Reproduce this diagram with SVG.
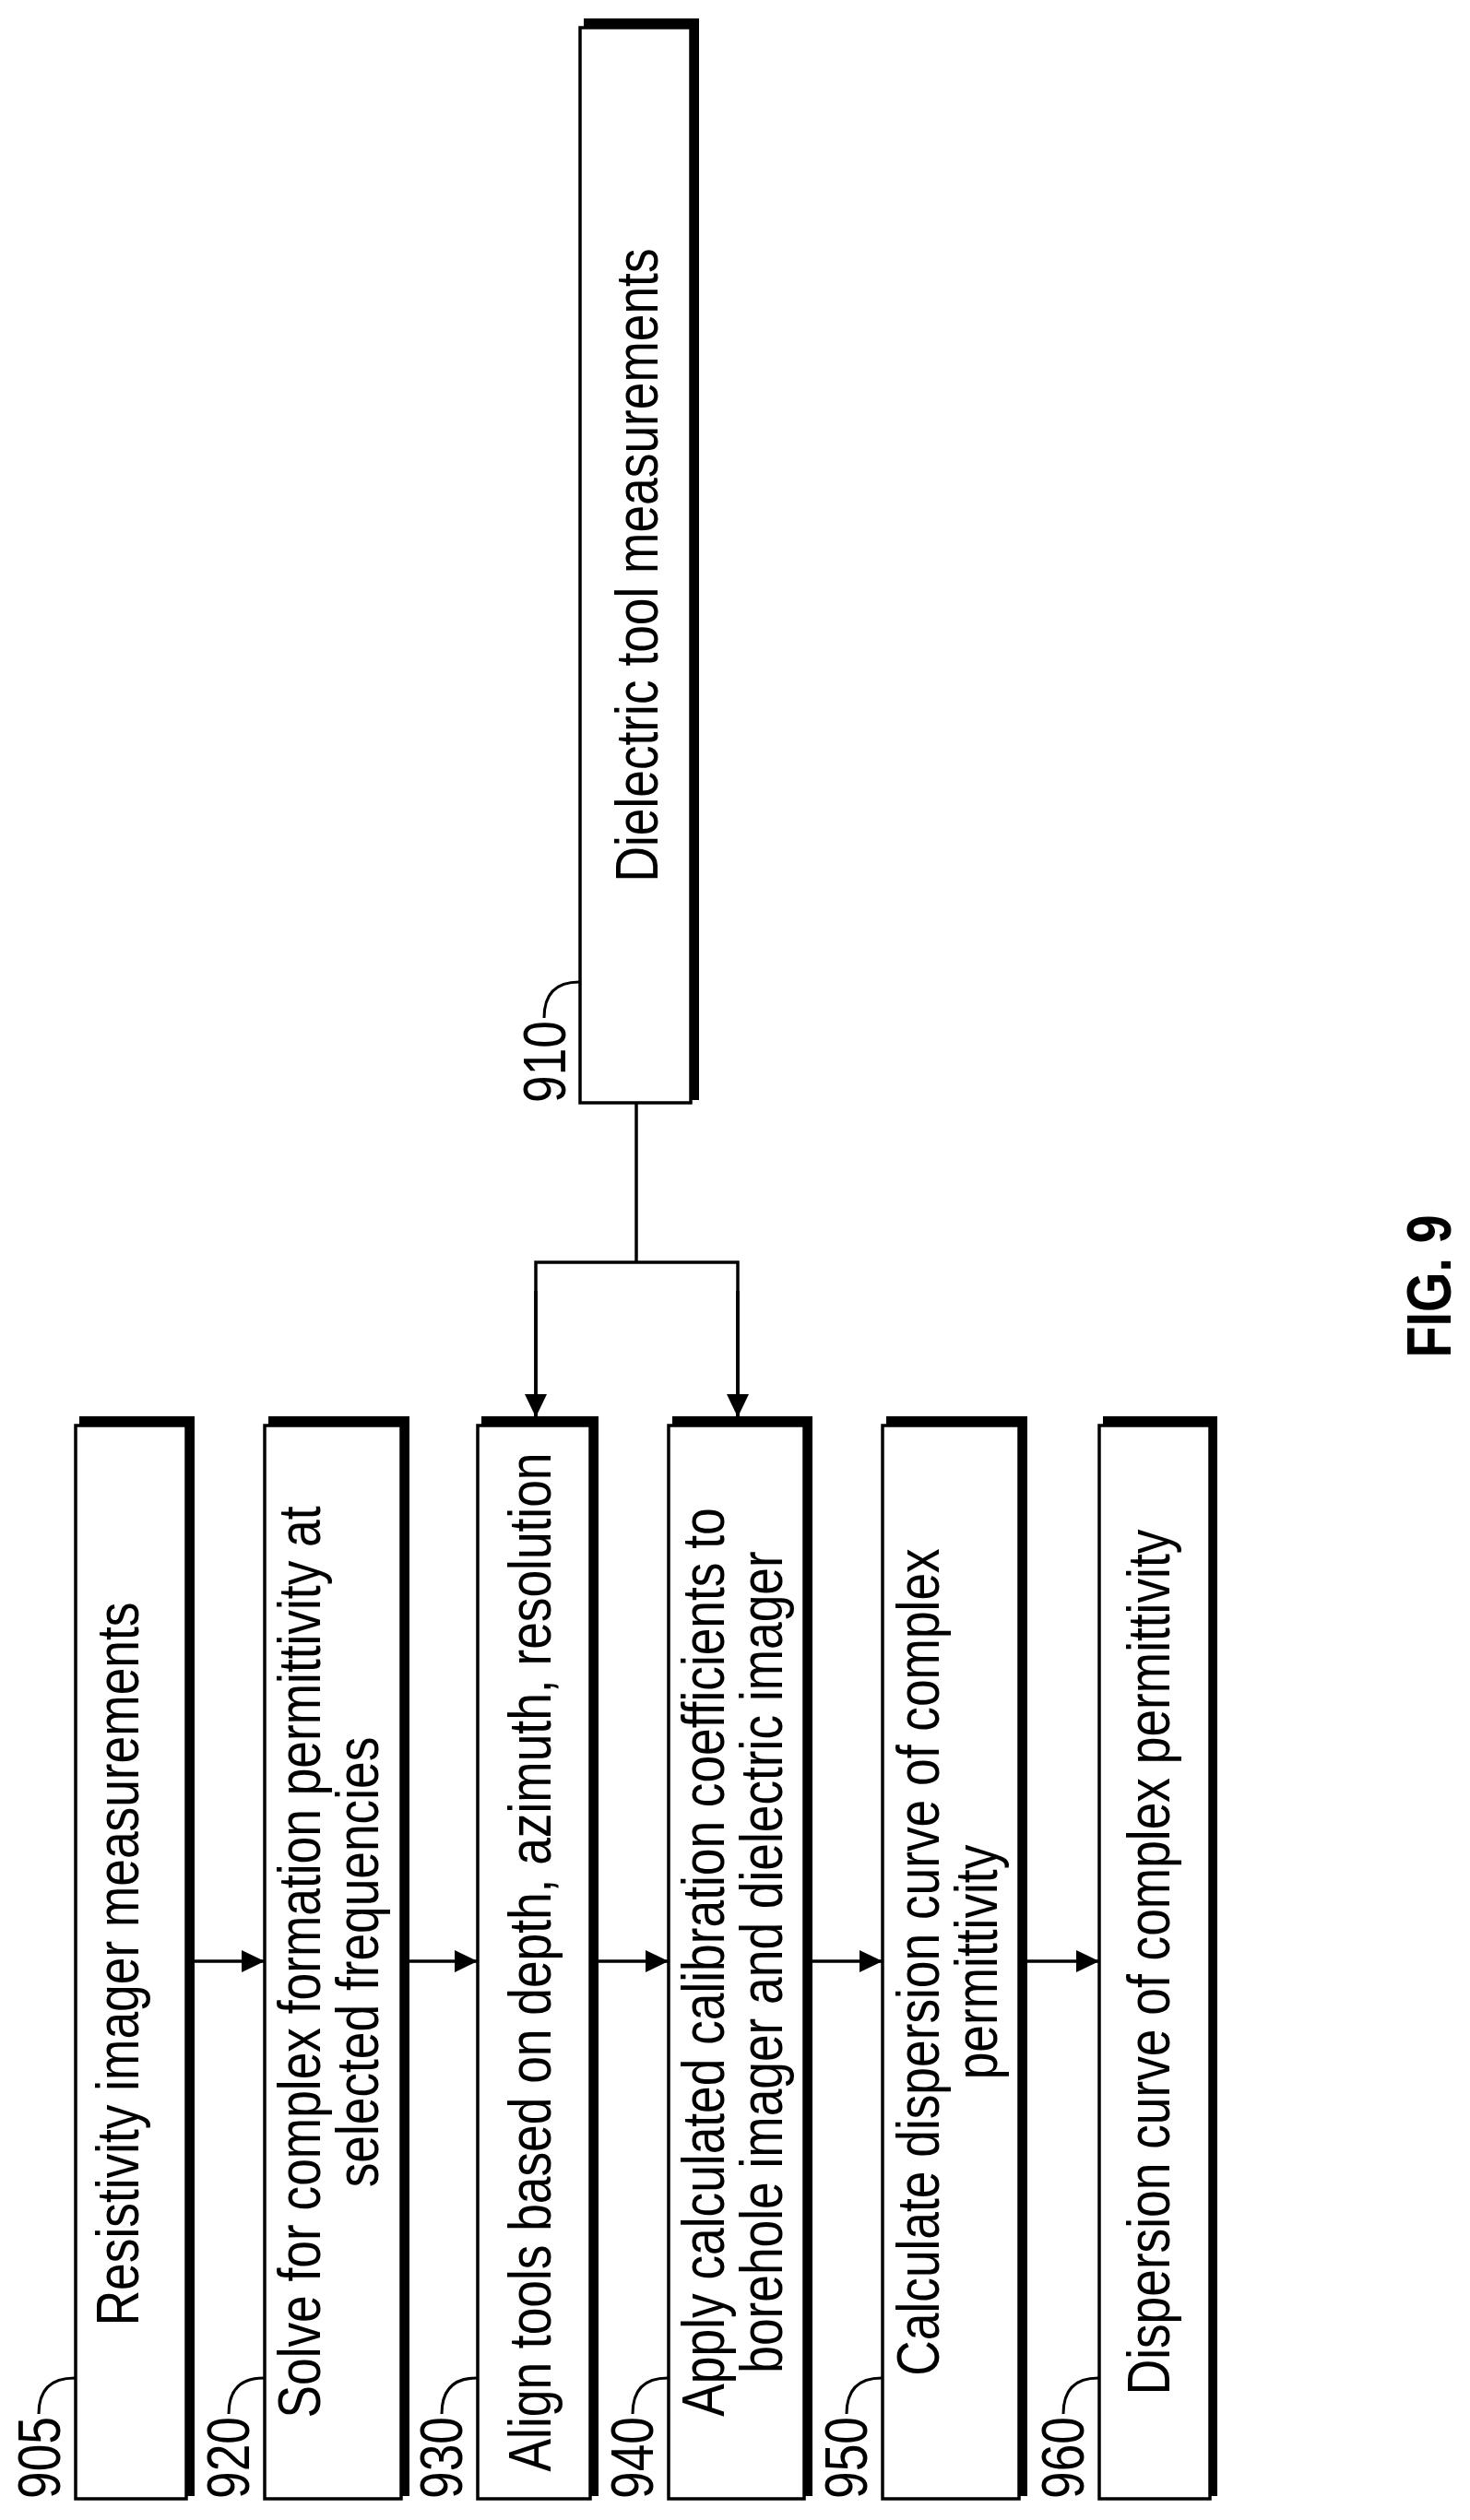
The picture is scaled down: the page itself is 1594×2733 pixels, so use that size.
<svg xmlns="http://www.w3.org/2000/svg" width="1594" height="2733" viewBox="0 0 1594 2733">
<style>
.sh{fill:#000}
.bx{fill:#fff;stroke:#000;stroke-width:3.5}
.t{font-family:"Liberation Sans",Arial,sans-serif;font-size:65px;fill:#000}
.c{text-anchor:middle}
.ln{fill:none;stroke:#000;stroke-width:3.5}
.ld{fill:none;stroke:#000;stroke-width:3}
.fig{font-family:"Liberation Sans",Arial,sans-serif;font-size:68px;font-weight:bold;text-anchor:middle}
</style>
<defs>
<marker id="ah" markerUnits="userSpaceOnUse" markerWidth="26" markerHeight="26" refX="25" refY="12" orient="auto"><path d="M0,0 L25,12 L0,24 Z" fill="#000"/></marker>
</defs>
<rect width="1594" height="2733" fill="#fff"/>

<g id="n905">
<rect class="sh" x="86" y="1536" width="125" height="1171"/>
<rect class="bx" x="82" y="1546" width="120" height="1164"/>
<text class="t c" transform="translate(150,2130) rotate(-90) scale(0.82,1)">Resistivity imager measurements</text>
<text class="t" transform="translate(65,2710) rotate(-90) scale(0.82,1)">905</text>
<path class="ld" d="M42,2618 Q42,2579 81,2579"/>
</g>
<g id="n920">
<rect class="sh" x="291" y="1536" width="153" height="1171"/>
<rect class="bx" x="287" y="1546" width="148" height="1164"/>
<text class="t c" transform="translate(347,2128) rotate(-90) scale(0.82,1)">Solve for complex formation permittivity at</text>
<text class="t c" transform="translate(410,2128) rotate(-90) scale(0.82,1)">selected frequencies</text>
<text class="t" transform="translate(270,2710) rotate(-90) scale(0.82,1)">920</text>
<path class="ld" d="M248,2618 Q248,2579 286,2579"/>
</g>
<g id="n930">
<rect class="sh" x="522" y="1536" width="127" height="1171"/>
<rect class="bx" x="518" y="1546" width="122" height="1164"/>
<text class="t c" transform="translate(597,2128) rotate(-90) scale(0.82,1)">Align tools based on depth, azimuth, resolution</text>
<text class="t" transform="translate(501,2710) rotate(-90) scale(0.82,1)">930</text>
<path class="ld" d="M479,2618 Q479,2579 517,2579"/>
</g>
<g id="n940">
<rect class="sh" x="729" y="1536" width="152" height="1171"/>
<rect class="bx" x="725" y="1546" width="147" height="1164"/>
<text class="t c" transform="translate(785,2128) rotate(-90) scale(0.82,1)">Apply calculated calibration coefficients to</text>
<text class="t c" transform="translate(848,2128) rotate(-90) scale(0.82,1)">borehole imager and dielectric imager</text>
<text class="t" transform="translate(708,2710) rotate(-90) scale(0.82,1)">940</text>
<path class="ld" d="M686,2618 Q686,2579 724,2579"/>
</g>
<g id="n950">
<rect class="sh" x="961" y="1536" width="153" height="1171"/>
<rect class="bx" x="957" y="1546" width="148" height="1164"/>
<text class="t c" transform="translate(1018,2128) rotate(-90) scale(0.82,1)">Calculate dispersion curve of complex</text>
<text class="t c" transform="translate(1081,2128) rotate(-90) scale(0.82,1)">permittivity</text>
<text class="t" transform="translate(940,2710) rotate(-90) scale(0.82,1)">950</text>
<path class="ld" d="M918,2618 Q918,2579 956,2579"/>
</g>
<g id="n960">
<rect class="sh" x="1196" y="1536" width="124" height="1171"/>
<rect class="bx" x="1192" y="1546" width="120" height="1164"/>
<text class="t c" transform="translate(1268,2128) rotate(-90) scale(0.82,1)">Dispersion curve of complex permittivity</text>
<text class="t" transform="translate(1175,2710) rotate(-90) scale(0.82,1)">960</text>
<path class="ld" d="M1153,2618 Q1153,2579 1191,2579"/>
</g>
<g id="n910">
<rect class="sh" x="633" y="20" width="125" height="1173"/>
<rect class="bx" x="629" y="30" width="120" height="1166"/>
<text class="t c" transform="translate(713,613) rotate(-90) scale(0.82,1)">Dielectric tool measurements</text>
<text class="t" transform="translate(613,1196) rotate(-90) scale(0.82,1)">910</text>
<path class="ld" d="M590,1104 Q590,1065 628,1065"/>
</g>

<g id="connectors">
<path class="ln" d="M211,2127 H287" marker-end="url(#ah)"/>
<path class="ln" d="M444,2127 H518" marker-end="url(#ah)"/>
<path class="ln" d="M649,2127 H725" marker-end="url(#ah)"/>
<path class="ln" d="M881,2127 H957" marker-end="url(#ah)"/>
<path class="ln" d="M1114,2127 H1192" marker-end="url(#ah)"/>
<path class="ln" d="M690,1196 V1369"/>
<path class="ln" d="M581,1537 V1369 H800 V1537" />
<path class="ln" d="M581,1400 V1537" marker-end="url(#ah)"/>
<path class="ln" d="M800,1400 V1537" marker-end="url(#ah)"/>
</g>

<text class="fig" transform="translate(1573,1395) rotate(-90) scale(0.82,1)">FIG. 9</text>
</svg>
